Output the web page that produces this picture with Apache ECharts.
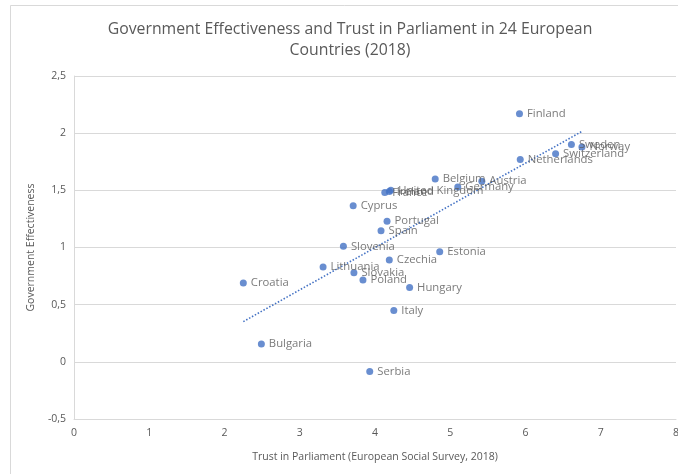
<!DOCTYPE html>
<html>
<head>
<meta charset="utf-8">
<script src="https://cdn.jsdelivr.net/npm/echarts@6/dist/echarts.min.js"></script>
<style>
  html, body { margin: 0; padding: 0; background: #fff; overflow: hidden; }
  #chart { width: 678px; height: 474px; }
</style>
</head>
<body>
<div id="chart"></div>
<script>
// Trust in parliament (ESS 2018) vs. government effectiveness, by country
const countries = [
  'Finland', 'Sweden', 'Norway', 'Switzerland', 'Netherlands',
  'Belgium', 'Austria', 'Germany', 'France', 'Ireland', 'United Kingdom',
  'Cyprus', 'Portugal', 'Spain', 'Slovenia', 'Estonia', 'Czechia',
  'Lithuania', 'Slovakia', 'Poland', 'Hungary', 'Croatia', 'Italy',
  'Bulgaria', 'Serbia'
];
const trust = [
  5.92, 6.61, 6.75, 6.40, 5.93,
  4.80, 5.42, 5.10, 4.13, 4.19, 4.21,
  3.71, 4.16, 4.08, 3.58, 4.86, 4.19,
  3.31, 3.72, 3.84, 4.46, 2.25, 4.25,
  2.49, 3.93
];
const effectiveness = [
  2.17, 1.90, 1.88, 1.82, 1.77,
  1.60, 1.58, 1.53, 1.48, 1.49, 1.50,
  1.365, 1.23, 1.147, 1.01, 0.963, 0.89,
  0.83, 0.78, 0.716, 0.65, 0.69, 0.45,
  0.157, -0.085
];
const yTicks = { min: -0.5, max: 2.5, step: 0.5 };
const xTicks = { min: 0, max: 8, step: 1 };

const points = countries.map((c, i) => [trust[i], effectiveness[i], c]);

// Least-squares linear trend across the observed range of trust
function linearTrend(xs, ys) {
  const n = xs.length;
  const mx = xs.reduce((a, b) => a + b, 0) / n;
  const my = ys.reduce((a, b) => a + b, 0) / n;
  let sxy = 0, sxx = 0;
  for (let i = 0; i < n; i++) {
    sxy += (xs[i] - mx) * (ys[i] - my);
    sxx += (xs[i] - mx) * (xs[i] - mx);
  }
  const slope = sxy / sxx;
  const icpt = my - slope * mx;
  const x0 = Math.min(...xs), x1 = Math.max(...xs);
  return [[x0, icpt + slope * x0], [x1, icpt + slope * x1]];
}
const trendLine = linearTrend(trust, effectiveness);

const FONT = '"Open Sans", "Noto Sans", sans-serif';
const GREY = '#595959';
const BLUE = '#4472C4';

const chart = echarts.init(document.getElementById('chart'), null, { renderer: 'canvas', width: 678, height: 474 });
chart.setOption({
  animation: false,
  backgroundColor: '#fff',
  graphic: [{
    type: 'rect',
    shape: { x: 10.5, y: 5.5, width: 700, height: 500 },
    style: { fill: 'none', stroke: '#d9d9d9', lineWidth: 1 },
    silent: true
  }],
  title: {
    text: 'Government Effectiveness and Trust in Parliament in 24 European\nCountries (2018)',
    left: 345,
    top: 14,
    textAlign: 'center',
    textStyle: {
      fontFamily: FONT,
      fontSize: 15.8,
      fontWeight: 'normal',
      color: GREY,
      lineHeight: 21
    }
  },
  grid: { left: 74, right: 2, top: 76, bottom: 55, containLabel: false, outerBoundsMode: 'none' },
  xAxis: {
    type: 'value',
    min: xTicks.min, max: xTicks.max, interval: xTicks.step,
    name: 'Trust in Parliament (European Social Survey, 2018)',
    nameLocation: 'middle',
    nameGap: 33,
    nameTextStyle: { fontFamily: FONT, fontSize: 10.5, color: GREY },
    axisLine: { show: true, onZero: false, lineStyle: { color: '#d9d9d9' } },
    axisTick: { show: false },
    splitLine: { show: false },
    axisLabel: { fontFamily: FONT, fontSize: 10.5, color: GREY, margin: 9 }
  },
  yAxis: {
    type: 'value',
    min: yTicks.min, max: yTicks.max, interval: yTicks.step,
    name: 'Government Effectiveness',
    nameLocation: 'middle',
    nameGap: 33,
    nameTextStyle: { fontFamily: FONT, fontSize: 10.5, color: GREY },
    axisLine: { show: true, onZero: false, lineStyle: { color: '#d9d9d9' } },
    axisTick: { show: false },
    splitLine: { show: true, lineStyle: { color: '#d9d9d9' } },
    axisLabel: {
      fontFamily: FONT, fontSize: 10.5, color: GREY, margin: 8,
      formatter: v => String(v).replace('.', ',')
    }
  },
  series: [
    {
      type: 'line',
      data: trendLine,
      showSymbol: false,
      symbol: 'none',
      lineStyle: { color: BLUE, width: 1.6, type: [1.5, 1.8] },
      z: 1
    },
    {
      type: 'scatter',
      data: points,
      symbolSize: 7,
      itemStyle: { color: BLUE },
      label: {
        show: true,
        position: 'right',
        distance: 4,
        formatter: p => p.data[2],
        fontFamily: FONT,
        fontSize: 11.3,
        color: GREY
      },
      labelLayout: { hideOverlap: false },
      z: 2
    }
  ]
});
</script>
</body>
</html>
